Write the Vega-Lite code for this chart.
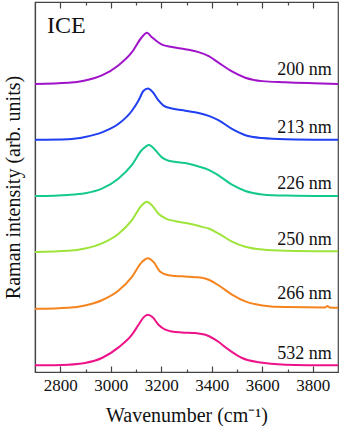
{
  "$schema": "https://vega.github.io/schema/vega-lite/v6.json",
  "width": 303,
  "height": 370,
  "autosize": "none",
  "padding": {"left": 35, "top": 2, "right": 2, "bottom": 54},
  "background": "white",
  "config": {"view": {"stroke": "#444", "strokeWidth": 1.2}, "font": "Liberation Serif"},
  "datasets": {
    "spectra": [
      {"s": "200 nm", "w": 2700, "v": 5.06}, {"s": "200 nm", "w": 2832, "v": 5.08}, {"s": "200 nm", "w": 2898, "v": 5.12}, {"s": "200 nm", "w": 2965, "v": 5.21}, {"s": "200 nm", "w": 3031, "v": 5.39}, {"s": "200 nm", "w": 3084, "v": 5.62}, {"s": "200 nm", "w": 3123, "v": 5.88}, {"s": "200 nm", "w": 3143, "v": 5.96}, {"s": "200 nm", "w": 3163, "v": 5.88}, {"s": "200 nm", "w": 3203, "v": 5.75}, {"s": "200 nm", "w": 3242, "v": 5.71}, {"s": "200 nm", "w": 3295, "v": 5.67}, {"s": "200 nm", "w": 3348, "v": 5.62}, {"s": "200 nm", "w": 3388, "v": 5.55}, {"s": "200 nm", "w": 3428, "v": 5.43}, {"s": "200 nm", "w": 3480, "v": 5.28}, {"s": "200 nm", "w": 3533, "v": 5.17}, {"s": "200 nm", "w": 3600, "v": 5.11}, {"s": "200 nm", "w": 3692, "v": 5.09}, {"s": "200 nm", "w": 3900, "v": 5.06},
      {"s": "213 nm", "w": 2700, "v": 4.08}, {"s": "213 nm", "w": 2832, "v": 4.09}, {"s": "213 nm", "w": 2898, "v": 4.13}, {"s": "213 nm", "w": 2965, "v": 4.21}, {"s": "213 nm", "w": 3031, "v": 4.36}, {"s": "213 nm", "w": 3084, "v": 4.59}, {"s": "213 nm", "w": 3110, "v": 4.77}, {"s": "213 nm", "w": 3130, "v": 4.94}, {"s": "213 nm", "w": 3147, "v": 4.98}, {"s": "213 nm", "w": 3166, "v": 4.92}, {"s": "213 nm", "w": 3189, "v": 4.77}, {"s": "213 nm", "w": 3209, "v": 4.68}, {"s": "213 nm", "w": 3242, "v": 4.63}, {"s": "213 nm", "w": 3295, "v": 4.59}, {"s": "213 nm", "w": 3348, "v": 4.55}, {"s": "213 nm", "w": 3388, "v": 4.50}, {"s": "213 nm", "w": 3428, "v": 4.42}, {"s": "213 nm", "w": 3480, "v": 4.27}, {"s": "213 nm", "w": 3533, "v": 4.16}, {"s": "213 nm", "w": 3600, "v": 4.11}, {"s": "213 nm", "w": 3692, "v": 4.09}, {"s": "213 nm", "w": 3900, "v": 4.08},
      {"s": "226 nm", "w": 2700, "v": 3.09}, {"s": "226 nm", "w": 2832, "v": 3.11}, {"s": "226 nm", "w": 2898, "v": 3.14}, {"s": "226 nm", "w": 2965, "v": 3.22}, {"s": "226 nm", "w": 3031, "v": 3.40}, {"s": "226 nm", "w": 3084, "v": 3.64}, {"s": "226 nm", "w": 3123, "v": 3.90}, {"s": "226 nm", "w": 3152, "v": 3.99}, {"s": "226 nm", "w": 3176, "v": 3.90}, {"s": "226 nm", "w": 3203, "v": 3.77}, {"s": "226 nm", "w": 3229, "v": 3.71}, {"s": "226 nm", "w": 3295, "v": 3.67}, {"s": "226 nm", "w": 3348, "v": 3.61}, {"s": "226 nm", "w": 3388, "v": 3.55}, {"s": "226 nm", "w": 3428, "v": 3.45}, {"s": "226 nm", "w": 3480, "v": 3.29}, {"s": "226 nm", "w": 3533, "v": 3.18}, {"s": "226 nm", "w": 3600, "v": 3.12}, {"s": "226 nm", "w": 3692, "v": 3.10}, {"s": "226 nm", "w": 3900, "v": 3.09},
      {"s": "250 nm", "w": 2700, "v": 2.11}, {"s": "250 nm", "w": 2832, "v": 2.13}, {"s": "250 nm", "w": 2898, "v": 2.17}, {"s": "250 nm", "w": 2965, "v": 2.26}, {"s": "250 nm", "w": 3031, "v": 2.43}, {"s": "250 nm", "w": 3084, "v": 2.67}, {"s": "250 nm", "w": 3123, "v": 2.93}, {"s": "250 nm", "w": 3143, "v": 2.99}, {"s": "250 nm", "w": 3163, "v": 2.93}, {"s": "250 nm", "w": 3189, "v": 2.78}, {"s": "250 nm", "w": 3216, "v": 2.70}, {"s": "250 nm", "w": 3256, "v": 2.65}, {"s": "250 nm", "w": 3308, "v": 2.61}, {"s": "250 nm", "w": 3361, "v": 2.55}, {"s": "250 nm", "w": 3388, "v": 2.52}, {"s": "250 nm", "w": 3428, "v": 2.43}, {"s": "250 nm", "w": 3480, "v": 2.29}, {"s": "250 nm", "w": 3533, "v": 2.20}, {"s": "250 nm", "w": 3600, "v": 2.15}, {"s": "250 nm", "w": 3692, "v": 2.13}, {"s": "250 nm", "w": 3900, "v": 2.12},
      {"s": "266 nm", "w": 2700, "v": 1.11}, {"s": "266 nm", "w": 2832, "v": 1.13}, {"s": "266 nm", "w": 2898, "v": 1.17}, {"s": "266 nm", "w": 2965, "v": 1.26}, {"s": "266 nm", "w": 3031, "v": 1.43}, {"s": "266 nm", "w": 3084, "v": 1.67}, {"s": "266 nm", "w": 3123, "v": 1.93}, {"s": "266 nm", "w": 3147, "v": 2.00}, {"s": "266 nm", "w": 3170, "v": 1.93}, {"s": "266 nm", "w": 3196, "v": 1.76}, {"s": "266 nm", "w": 3229, "v": 1.70}, {"s": "266 nm", "w": 3282, "v": 1.68}, {"s": "266 nm", "w": 3335, "v": 1.665}, {"s": "266 nm", "w": 3361, "v": 1.655}, {"s": "266 nm", "w": 3388, "v": 1.62}, {"s": "266 nm", "w": 3428, "v": 1.52}, {"s": "266 nm", "w": 3480, "v": 1.36}, {"s": "266 nm", "w": 3533, "v": 1.24}, {"s": "266 nm", "w": 3600, "v": 1.17}, {"s": "266 nm", "w": 3692, "v": 1.14}, {"s": "266 nm", "w": 3850, "v": 1.135}, {"s": "266 nm", "w": 3858, "v": 1.16}, {"s": "266 nm", "w": 3866, "v": 1.135}, {"s": "266 nm", "w": 3900, "v": 1.13},
      {"s": "532 nm", "w": 2700, "v": 0.117}, {"s": "532 nm", "w": 2832, "v": 0.129}, {"s": "532 nm", "w": 2898, "v": 0.158}, {"s": "532 nm", "w": 2965, "v": 0.246}, {"s": "532 nm", "w": 3031, "v": 0.433}, {"s": "532 nm", "w": 3084, "v": 0.655}, {"s": "532 nm", "w": 3110, "v": 0.83}, {"s": "532 nm", "w": 3130, "v": 0.96}, {"s": "532 nm", "w": 3147, "v": 1.006}, {"s": "532 nm", "w": 3166, "v": 0.96}, {"s": "532 nm", "w": 3189, "v": 0.83}, {"s": "532 nm", "w": 3216, "v": 0.743}, {"s": "532 nm", "w": 3242, "v": 0.713}, {"s": "532 nm", "w": 3282, "v": 0.696}, {"s": "532 nm", "w": 3335, "v": 0.684}, {"s": "532 nm", "w": 3375, "v": 0.655}, {"s": "532 nm", "w": 3414, "v": 0.567}, {"s": "532 nm", "w": 3467, "v": 0.392}, {"s": "532 nm", "w": 3520, "v": 0.246}, {"s": "532 nm", "w": 3586, "v": 0.170}, {"s": "532 nm", "w": 3692, "v": 0.129}, {"s": "532 nm", "w": 3900, "v": 0.117}
    ],
    "labels": [
      {"t": "200 nm", "w": 3875, "v": 5.21},
      {"t": "213 nm", "w": 3875, "v": 4.19},
      {"t": "226 nm", "w": 3875, "v": 3.22},
      {"t": "250 nm", "w": 3875, "v": 2.23},
      {"t": "266 nm", "w": 3875, "v": 1.28},
      {"t": "532 nm", "w": 3875, "v": 0.22}
    ],
    "tag": [{"t": "ICE", "w": 2748, "v": 5.95}]
  },
  "resolve": {"axis": {"x": "independent", "y": "independent"}},
  "layer": [
    {
      "data": {"name": "spectra"},
      "mark": {"type": "line", "strokeWidth": 2, "interpolate": "monotone"},
      "encoding": {
        "x": {
          "field": "w", "type": "quantitative",
          "scale": {"domain": [2700, 3900], "nice": false, "zero": false},
          "axis": {
            "orient": "bottom",
            "values": [2800, 2900, 3000, 3100, 3200, 3300, 3400, 3500, 3600, 3700, 3800],
            "format": "d",
            "labelExpr": "datum.value % 200 === 0 ? datum.label : ''",
            "tickSize": {"condition": {"test": "datum.value % 200 === 0", "value": -6}, "value": -3},
            "tickColor": "#444",
            "tickWidth": 1.2,
            "domainColor": "#444",
            "domainWidth": 1.2,
            "grid": false,
            "labelFont": "Liberation Serif",
            "labelFontSize": 17,
            "labelColor": "#111",
            "labelPadding": 11,
            "labelFlush": false,
            "labelOverlap": false,
            "title": "Wavenumber (cm⁻¹)",
            "titleFont": "Liberation Serif",
            "titleFontSize": 20,
            "titleFontWeight": "normal",
            "titleColor": "#111",
            "titlePadding": 9
          }
        },
        "y": {
          "field": "v", "type": "quantitative",
          "scale": {"domain": [0, 6.5], "nice": false, "zero": false},
          "axis": {
            "labels": false,
            "ticks": false,
            "grid": false,
            "domainColor": "#444",
            "domainWidth": 1.2,
            "title": "Raman intensity (arb. units)",
            "titleFont": "Liberation Serif",
            "titleFontSize": 20,
            "titleFontWeight": "normal",
            "titleColor": "#111",
            "titlePadding": 12
          }
        },
        "color": {
          "field": "s", "type": "nominal",
          "scale": {
            "domain": ["200 nm", "213 nm", "226 nm", "250 nm", "266 nm", "532 nm"],
            "range": ["#a013c8", "#1f3ff0", "#14c98c", "#9ee43a", "#f5841f", "#ee1289"]
          },
          "legend": null
        }
      }
    },
    {
      "data": {"name": "labels"},
      "mark": {"type": "text", "align": "right", "baseline": "alphabetic", "font": "Liberation Serif", "fontSize": 18, "color": "#111"},
      "encoding": {
        "x": {
          "field": "w", "type": "quantitative",
          "axis": {
            "orient": "top",
            "values": [2800, 2900, 3000, 3100, 3200, 3300, 3400, 3500, 3600, 3700, 3800],
            "labels": false,
            "title": null,
            "domain": false,
            "grid": false,
            "tickSize": {"condition": {"test": "datum.value % 200 === 0", "value": -6}, "value": -3},
            "tickColor": "#444",
            "tickWidth": 1.2
          }
        },
        "y": {"field": "v", "type": "quantitative", "axis": null},
        "text": {"field": "t"}
      }
    },
    {
      "data": {"name": "tag"},
      "mark": {"type": "text", "align": "left", "baseline": "alphabetic", "font": "Liberation Serif", "fontSize": 24, "color": "#111"},
      "encoding": {
        "x": {"field": "w", "type": "quantitative", "axis": null},
        "y": {"field": "v", "type": "quantitative", "axis": null},
        "text": {"field": "t"}
      }
    }
  ]
}
